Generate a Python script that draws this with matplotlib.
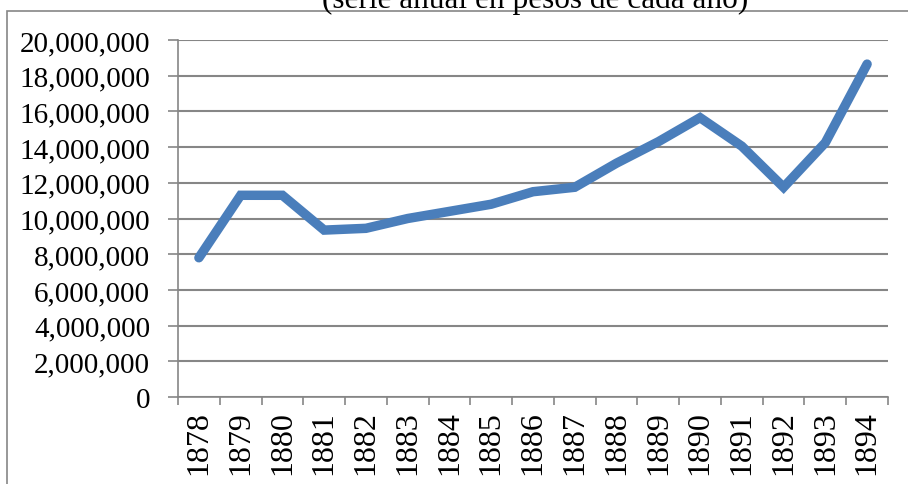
import matplotlib.pyplot as plt
from matplotlib.patches import Rectangle
from matplotlib.ticker import FuncFormatter, FixedLocator

years = ["1878", "1879", "1880", "1881", "1882", "1883", "1884", "1885", "1886",
         "1887", "1888", "1889", "1890", "1891", "1892", "1893", "1894"]
values = [7800000, 11300000, 11300000, 9350000, 9450000, 10000000, 10400000,
          10800000, 11500000, 11750000, 13100000, 14300000, 15650000, 14050000,
          11750000, 14250000, 18650000]
title = "(serie anual en pesos de cada año)"

plt.rcParams['font.family'] = ['Liberation Serif', 'DejaVu Serif']
W, H = 908, 485
fig = plt.figure(figsize=(W / 100, H / 100), dpi=100)
grey = "#868686"

# chart border, only top/left visible in the original
fig.patches.append(Rectangle((7 / W, -0.1), 1.2, 1 - 12 / H + 0.1, transform=fig.transFigure,
                             fill=False, edgecolor=grey, linewidth=1.2))
fig.text(535 / W, 1 - 8 / H, title, ha="center", va="baseline", fontsize=22.5)

ax = fig.add_axes([178 / W, 1 - 398 / H, (888 - 178) / W, (398 - 41) / H])
x = list(range(len(years)))
ax.plot(x, values, color="#4A7EBB", linewidth=6.8, solid_capstyle="round",
        solid_joinstyle="miter", zorder=3)

ax.set_xlim(-0.5, len(years) - 0.5)
ax.set_ylim(0, 20000000)
ax.set_yticks(range(0, 20000001, 2000000))
ax.yaxis.set_major_formatter(FuncFormatter(lambda v, p: f"{int(v):,}"))
ax.grid(axis="y", color=grey, linewidth=1.5)
ax.set_axisbelow(True)

ax.xaxis.set_major_locator(FixedLocator([i - 0.5 for i in range(len(years) + 1)]))
ax.xaxis.set_minor_locator(FixedLocator(x))
ax.set_xticklabels([], minor=False)
ax.set_xticklabels(years, minor=True, rotation=90)
ax.tick_params(axis="x", which="major", length=6, width=1.2, color=grey)
ax.tick_params(axis="x", which="minor", length=0, pad=9.5, labelsize=23)
ax.tick_params(axis="y", length=7, width=1.2, color=grey, pad=13, labelsize=21)

for s in ["top", "right"]:
    ax.spines[s].set_visible(False)
for s in ["left", "bottom"]:
    ax.spines[s].set_color(grey)
    ax.spines[s].set_linewidth(1.2)

fig.savefig("out.png", dpi=100)
